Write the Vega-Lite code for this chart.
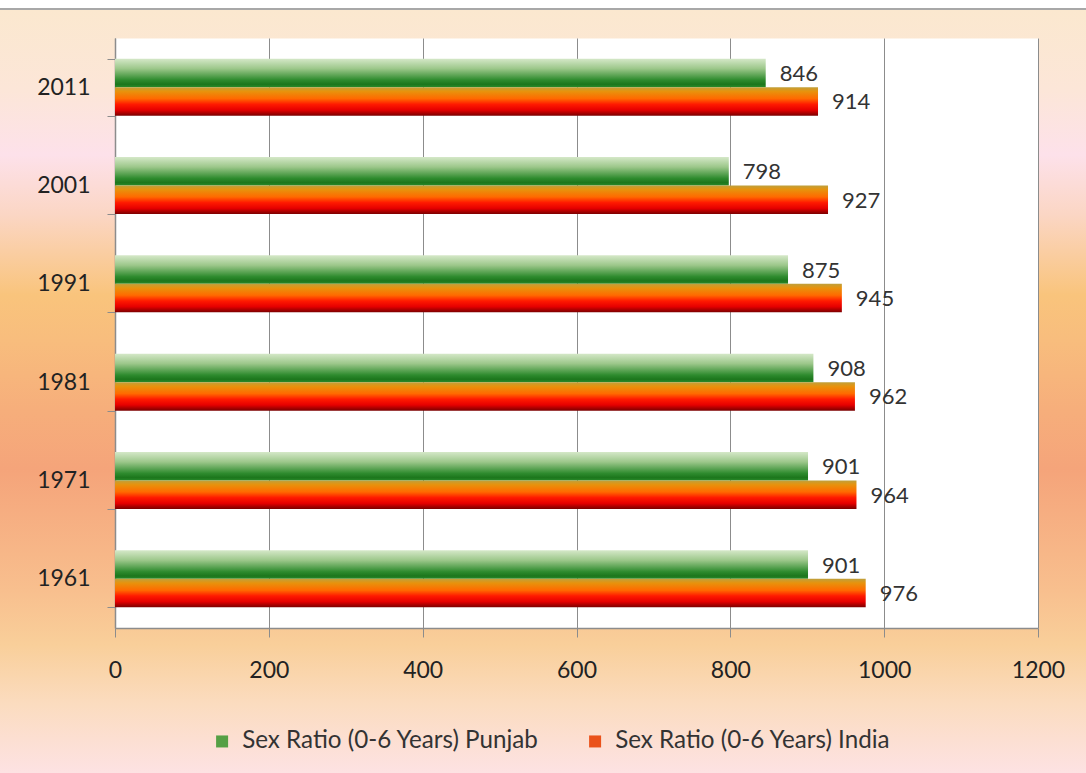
{
  "$schema": "https://vega.github.io/schema/vega-lite/v6.json",
  "width": 923,
  "height": 590,
  "autosize": {"type": "none"},
  "padding": {"left": 115, "top": 38, "right": 48, "bottom": 145},
  "background": "#fbd9c0",
  "view": {
    "fill": "white",
    "strokeWidth": 300,
    "stroke": {"gradient": "linear", "x1": 0, "y1": -0.0644, "x2": 0, "y2": 1.2458, "stops": [
      {"offset": 0, "color": "#ffffff"}, {"offset": 0.0097, "color": "#ffffff"}, {"offset": 0.0103, "color": "#a8a8a8"}, {"offset": 0.0123, "color": "#a8a8a8"}, {"offset": 0.0129, "color": "#fbe8cf"},
      {"offset": 0.1164, "color": "#fce6d8"}, {"offset": 0.2005, "color": "#fde1ea"}, {"offset": 0.2781, "color": "#fbd6c4"}, {"offset": 0.3816, "color": "#f9c47c"}, {"offset": 0.4398, "color": "#f8bd7d"},
      {"offset": 0.5304, "color": "#f6ae7b"}, {"offset": 0.608, "color": "#f5a47a"}, {"offset": 0.7633, "color": "#f8bf8e"}, {"offset": 0.8344, "color": "#f9cf9a"}, {"offset": 0.912, "color": "#fbdcc0"}, {"offset": 1, "color": "#fde2e3"}
    ]}
  },
  "config": {
    "font": "Lato",
    "axis": {"labelFont": "Lato", "labelFontSize": 23, "labelColor": "#222222", "domainColor": "#8c8c8c", "tickColor": "#8c8c8c", "gridColor": "#8c8c8c", "gridOpacity": 1, "title": null}
  },
  "data": {
    "values": [
      {"year": "2011", "series": "Punjab", "value": 846},
      {"year": "2011", "series": "India", "value": 914},
      {"year": "2001", "series": "Punjab", "value": 798},
      {"year": "2001", "series": "India", "value": 927},
      {"year": "1991", "series": "Punjab", "value": 875},
      {"year": "1991", "series": "India", "value": 945},
      {"year": "1981", "series": "Punjab", "value": 908},
      {"year": "1981", "series": "India", "value": 962},
      {"year": "1971", "series": "Punjab", "value": 901},
      {"year": "1971", "series": "India", "value": 964},
      {"year": "1961", "series": "Punjab", "value": 901},
      {"year": "1961", "series": "India", "value": 976}
    ]
  },
  "encoding": {
    "y": {
      "field": "year", "type": "nominal", "sort": "descending",
      "scale": {"paddingInner": 0.42, "paddingOuter": 0.21},
      "axis": {"tickBand": "extent", "tickSize": 8, "labelPadding": 17, "grid": false, "domainWidth": 1.5}
    },
    "yOffset": {
      "field": "series", "type": "nominal",
      "scale": {"domain": ["Punjab", "India"], "paddingInner": 0, "paddingOuter": 0}
    }
  },
  "layer": [
    {
      "transform": [{"filter": "datum.series === 'Punjab'"}],
      "mark": {"type": "bar", "fill": {"gradient": "linear", "x1": 0, "y1": 0, "x2": 0, "y2": 1, "stops": [{"offset": 0, "color": "#d5e8c8"}, {"offset": 0.35, "color": "#9cc78a"}, {"offset": 0.75, "color": "#2e8b2e"}, {"offset": 0.9, "color": "#1c761c"}, {"offset": 1, "color": "#2a8a2a"}]}},
      "encoding": {
        "x": {
          "field": "value", "type": "quantitative",
          "scale": {"domain": [0, 1200], "nice": false},
          "axis": {"orient": "bottom", "values": [600], "grid": true, "gridColor": "#ffffff", "gridWidth": 923, "gridOpacity": 1, "labels": false, "ticks": false, "domain": false, "title": null}
        }
      }
    },
    {
      "transform": [{"filter": "datum.series === 'India'"}],
      "mark": {"type": "bar", "fill": {"gradient": "linear", "x1": 0, "y1": 0, "x2": 0, "y2": 1, "stops": [{"offset": 0, "color": "#bfa03c"}, {"offset": 0.15, "color": "#e8920c"}, {"offset": 0.4, "color": "#ff6a00"}, {"offset": 0.6, "color": "#ff1a00"}, {"offset": 0.8, "color": "#e60000"}, {"offset": 1, "color": "#7a0000"}]}},
      "encoding": {
        "x": {
          "field": "value", "type": "quantitative",
          "scale": {"domain": [0, 1200], "nice": false},
          "axis": {"orient": "bottom", "values": [0, 200, 400, 600, 800, 1000, 1200], "format": "d", "grid": true, "tickSize": 9, "labelPadding": 22, "labelFlush": false, "labelOverlap": false, "domainWidth": 1.5}
        }
      }
    },
    {
      "mark": {"type": "text", "align": "left", "baseline": "middle", "dx": 14, "dy": 1, "fontSize": 22, "font": "Lato", "color": "#333333"},
      "encoding": {
        "x": {"field": "value", "type": "quantitative", "scale": {"domain": [0, 1200], "nice": false}, "axis": null},
        "text": {"field": "value", "type": "quantitative"}
      }
    },
    {
      "mark": {"type": "bar", "opacity": 0},
      "encoding": {
        "x": {"field": "value", "type": "quantitative", "scale": {"domain": [0, 1200], "nice": false}, "axis": null},
        "color": {
          "field": "series", "type": "nominal",
          "scale": {"domain": ["Punjab", "India"], "range": ["#55a045", "#ea521a"]},
          "legend": {
            "orient": "none", "legendX": 95, "legendY": 691, "direction": "horizontal",
            "title": null, "symbolType": "square", "symbolSize": 144, "symbolStrokeWidth": 0, "symbolOpacity": 1,
            "labelFont": "Lato", "labelFontSize": 24.2, "labelColor": "#333333", "labelOffset": 8, "columnPadding": 44,
            "labelExpr": "'Sex Ratio (0-6 Years) ' + datum.label",
            "labelLimit": 400
          }
        }
      }
    }
  ],
  "resolve": {"axis": {"x": "independent"}}
}
